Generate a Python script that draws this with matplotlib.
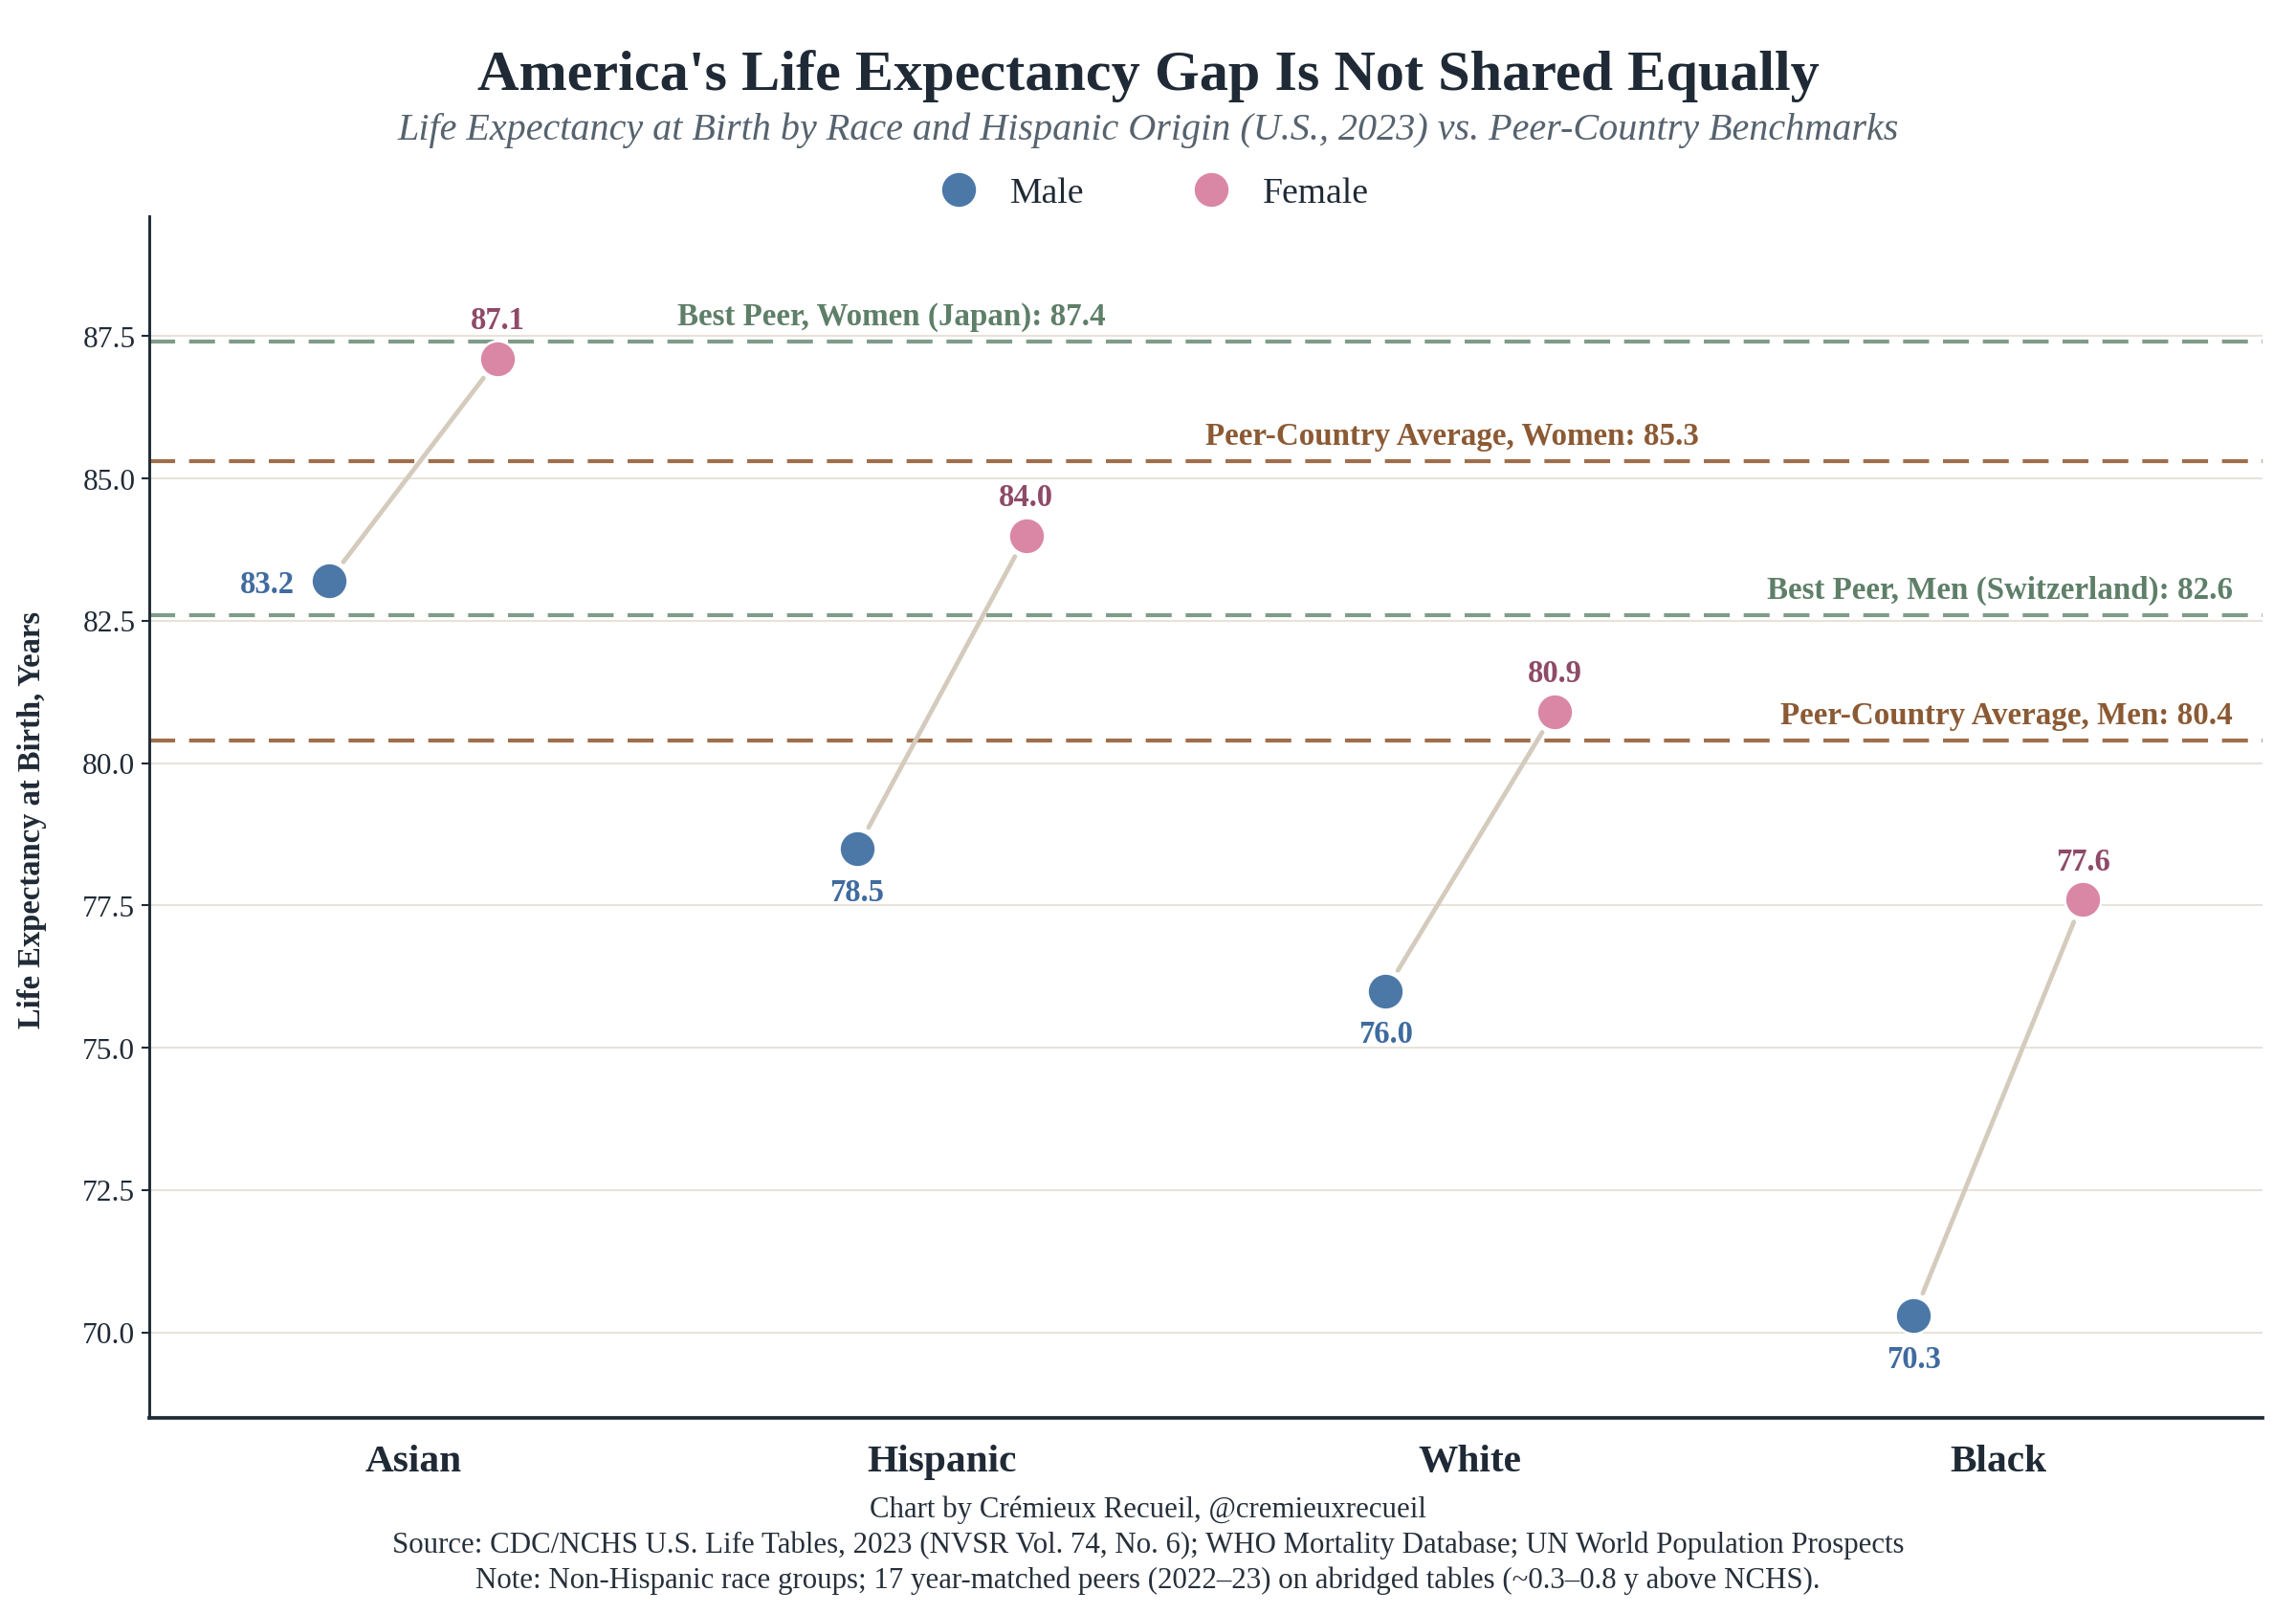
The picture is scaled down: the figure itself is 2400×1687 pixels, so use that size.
import matplotlib
matplotlib.use("Agg")
import matplotlib.pyplot as plt
from matplotlib.lines import Line2D
import numpy as np

# ---------------- data ----------------
groups = ["Asian", "Hispanic", "White", "Black"]
male = [83.2, 78.5, 76.0, 70.3]
female = [87.1, 84.0, 80.9, 77.6]
bench_labels = ["Best Peer, Women (Japan)", "Peer-Country Average, Women",
                "Best Peer, Men (Switzerland)", "Peer-Country Average, Men"]
bench_values = [87.4, 85.3, 82.6, 80.4]
yticks = [70.0, 72.5, 75.0, 77.5, 80.0, 82.5, 85.0, 87.5]

title = "America's Life Expectancy Gap Is Not Shared Equally"
subtitle = ("Life Expectancy at Birth by Race and Hispanic Origin (U.S., 2023) "
            "vs. Peer-Country Benchmarks")
ylabel = "Life Expectancy at Birth, Years"
footer = ["Chart by Crémieux Recueil, @cremieuxrecueil",
          "Source: CDC/NCHS U.S. Life Tables, 2023 (NVSR Vol. 74, No. 6); "
          "WHO Mortality Database; UN World Population Prospects",
          "Note: Non-Hispanic race groups; 17 year-matched peers (2022–23) "
          "on abridged tables (~0.3–0.8 y above NCHS)."]

# ---------------- style ----------------
plt.rcParams["font.family"] = ["Liberation Serif", "DejaVu Serif"]
DARK = "#1f2a36"
MALE_C = "#4c78a8"
FEMALE_C = "#d987a5"
MALE_T = "#3f6b9f"
FEMALE_T = "#8e4a68"
GREEN_L = "#7f9c89"
GREEN_T = "#5e7f68"
BROWN_L = "#a06e4a"
BROWN_T = "#8b5a34"
CONN = "#d5cbbd"
GRID = "#e8e2d9"

DPI = 150
fig = plt.figure(figsize=(16, 11.25), dpi=DPI)
fig.patch.set_facecolor("white")
ax = fig.add_axes([0.065, 0.1215, 0.9204, 0.744])
renderer = fig.canvas.get_renderer()


def fit(s, target_px, **kw):
    t = fig.text(0, 0, s, fontsize=20, **kw)
    w = t.get_window_extent(renderer).width
    t.remove()
    return 20.0 * target_px / w


title_fs = fit(title, 1402, weight="bold")
sub_fs = fit(subtitle, 1569, style="italic")
leg_fs = fit("Female", 111)
xt_fs = fit("Hispanic", 156, weight="bold")
yt_fs = fit("87.5", 55)
ylab_fs = fit(ylabel, 436, weight="bold")
val_fs = fit("87.1", 57, weight="bold")
bench_targets = [433, 505, 520, 461]
bench_fs = np.mean([fit(f"{l}: {v:.1f}", t, weight="bold")
                    for l, v, t in zip(bench_labels, bench_values, bench_targets)])
foot_fs = fit(footer[1], 1578)

x = np.arange(len(groups))
off = 0.16

# grid
ax.set_axisbelow(True)
ax.yaxis.grid(True, color=GRID, lw=1.0, zorder=0)
ax.xaxis.grid(False)

# benchmark lines
bench_colors = [(GREEN_L, GREEN_T), (BROWN_L, BROWN_T), (GREEN_L, GREEN_T), (BROWN_L, BROWN_T)]
bench_pos = [(0.5, "data", "left"), (1.5, "data", "left"),
             (0.986, "axes fraction", "right"), (0.986, "axes fraction", "right")]
for lab, v, (lc, tc), (px, pc, ha) in zip(bench_labels, bench_values, bench_colors, bench_pos):
    ax.axhline(v, color=lc, lw=2.0, dashes=(6.5, 3.5), zorder=1)
    ax.annotate(f"{lab}: {v:.1f}", xy=(px, v), xycoords=(pc, "data"),
                xytext=(0, 8.5), textcoords="offset points", ha=ha, va="baseline",
                fontsize=bench_fs, weight="bold", color=tc, zorder=5)

# connectors
for i in range(len(groups)):
    ax.annotate("", xy=(x[i] + off, female[i]), xytext=(x[i] - off, male[i]),
                arrowprops=dict(arrowstyle="-", color=CONN, lw=2.3,
                                shrinkA=12, shrinkB=12), zorder=2)

# markers
ax.scatter(x - off, male, s=330, color=MALE_C, edgecolor="white", linewidth=1.2, zorder=4)
ax.scatter(x + off, female, s=330, color=FEMALE_C, edgecolor="white", linewidth=1.2, zorder=4)

# value labels
for i in range(len(groups)):
    ax.annotate(f"{female[i]:.1f}", xy=(x[i] + off, female[i]), xytext=(0, 15),
                textcoords="offset points", ha="center", va="baseline",
                fontsize=val_fs, weight="bold", color=FEMALE_T, zorder=6)
    if i == 0:
        ax.annotate(f"{male[i]:.1f}", xy=(x[i] - off, male[i]), xytext=(-17, -2),
                    textcoords="offset points", ha="right", va="center",
                    fontsize=val_fs, weight="bold", color=MALE_T, zorder=6)
    else:
        ax.annotate(f"{male[i]:.1f}", xy=(x[i] - off, male[i]), xytext=(0, -14.5),
                    textcoords="offset points", ha="center", va="top",
                    fontsize=val_fs, weight="bold", color=MALE_T, zorder=6)

# axes
ax.set_xlim(-0.5, 3.5)
ax.set_ylim(68.5, 89.6)
ax.set_xticks(x)
ax.set_xticklabels(groups, fontsize=xt_fs, weight="bold", color=DARK)
ax.set_yticks(yticks)
ax.set_yticklabels([f"{t:.1f}" for t in yticks], fontsize=yt_fs, color=DARK)
ax.tick_params(axis="x", length=0, pad=13)
ax.tick_params(axis="y", length=4, width=1.0, color=DARK, pad=3)
for s in ["top", "right"]:
    ax.spines[s].set_visible(False)
ax.spines["left"].set_color(DARK)
ax.spines["left"].set_linewidth(1.4)
ax.spines["bottom"].set_color(DARK)
ax.spines["bottom"].set_linewidth(1.8)

# titles
fig.text(0.5, 0.953, title, ha="center", va="center", fontsize=title_fs,
         weight="bold", color=DARK)
fig.text(0.5, 0.919, subtitle, ha="center", va="center", fontsize=sub_fs,
         style="italic", color="#56636f")
fig.text(0.014, 0.492, ylabel, rotation=90, ha="center", va="center",
         fontsize=ylab_fs, weight="bold", color=DARK)

# legend
fs_px = leg_fs * DPI / 72.0
handles = [Line2D([], [], ls="", marker="o", markersize=18, markerfacecolor=MALE_C,
                  markeredgecolor="white", markeredgewidth=1.0),
           Line2D([], [], ls="", marker="o", markersize=18, markerfacecolor=FEMALE_C,
                  markeredgecolor="white", markeredgewidth=1.0)]
hl = 1.0
fig.legend(handles, ["Male", "Female"], loc="center", bbox_to_anchor=(0.503, 0.880),
           ncol=2, frameon=False, fontsize=leg_fs, handlelength=hl,
           handletextpad=(54 - hl * fs_px / 2) / fs_px,
           columnspacing=(114) / fs_px, labelcolor=DARK)

# footer
for yy, line in zip([0.065, 0.043, 0.021], footer):
    fig.text(0.5, yy, line, ha="center", va="center", fontsize=foot_fs, color="#26303b")

fig.savefig("out.png", dpi=DPI)
